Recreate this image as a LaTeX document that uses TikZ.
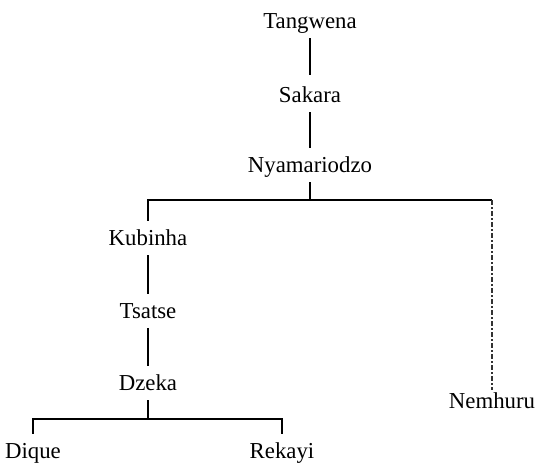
\documentclass[tikz,border=0pt]{standalone}
\usepackage{fontspec}
\setmainfont{Liberation Serif}
\begin{document}
\begin{tikzpicture}[x=0.5pt,y=-0.5pt,
  person/.style={anchor=base,font=\fontsize{11.4pt}{13pt}\selectfont,
    text height=7.5pt,text depth=0.5pt,inner xsep=0pt,inner ysep=4.5pt},
  link/.style={line width=0.6pt,black},
  dashdotlink/.style={line width=0.6pt,black!80,dash pattern=on 2.5pt off 1.2pt on 0.6pt off 1.2pt}]
\useasboundingbox (0,0) rectangle (537,468);
\node[person] (tan) at (310,28) {Tangwena};
\node[person] (sak) at (310,102) {Sakara};
\node[person] (nya) at (310,172) {Nyamariodzo};
\node[person] (kub) at (148,245) {Kubinha};
\node[person] (tsa) at (148,318) {Tsatse};
\node[person] (dze) at (148,390) {Dzeka};
\node[person] (diq) at (33,458) {Dique};
\node[person] (rek) at (282,458) {Rekayi};
\node[person] (nem) at (492,408) {Nemhuru};
\coordinate (bar1) at (310,200);
\coordinate (nemtop) at (492,200);
\coordinate (bar2) at (148,419);
\draw[link] (tan.south) -- ([yshift=1.5pt]sak.north);
\draw[link] (sak.south) -- (nya.north);
\draw[link] (nya.south) -- (bar1);
\draw[link] (kub.north) |- (nemtop);
\draw[dashdotlink] (nemtop) -- ([yshift=-3pt]nem.north);
\draw[link] (kub.south) -- (tsa.north);
\draw[link] (tsa.south) -- (dze.north);
\draw[link] (dze.south) -- (bar2);
\draw[link] (diq.north) |- (bar2) -| (rek.north);
\end{tikzpicture}
\end{document}
